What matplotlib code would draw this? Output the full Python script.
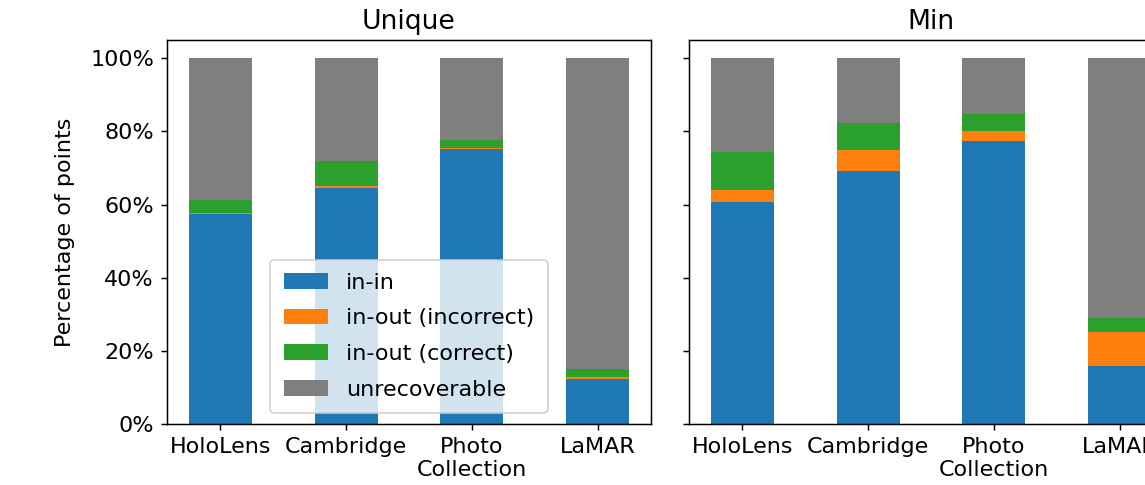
import matplotlib as mpl
mpl.use("Agg")
import matplotlib.pyplot as plt
import numpy as np
from matplotlib.ticker import PercentFormatter

plt.rcParams.update({"font.size": 12, "font.family": "DejaVu Sans"})

datasets = ["HoloLens", "Cambridge", "Photo\nCollection", "LaMAR"]
series = ["in-in", "in-out (incorrect)", "in-out (correct)", "unrecoverable"]
colors = ["#1f77b4", "#ff7f0e", "#2ca02c", "#7f7f7f"]

# fractions per dataset
unique_in_in = [0.575, 0.645, 0.751, 0.123]
unique_out_bad = [0.003, 0.006, 0.004, 0.006]
unique_out_ok = [0.035, 0.067, 0.022, 0.022]

min_in_in = [0.606, 0.692, 0.774, 0.159]
min_out_bad = [0.034, 0.056, 0.027, 0.093]
min_out_ok = [0.104, 0.075, 0.048, 0.038]


def panel(ax, in_in, out_bad, out_ok, title):
    parts = [np.array(in_in), np.array(out_bad), np.array(out_ok)]
    parts.append(1.0 - parts[0] - parts[1] - parts[2])
    x = np.arange(len(datasets))
    bottom = np.zeros(len(datasets))
    for vals, name, c in zip(parts, series, colors):
        ax.bar(x, vals, width=0.5, bottom=bottom, color=c, label=name)
        bottom += vals
    ax.set_xticks(x)
    ax.set_xticklabels(datasets)
    ax.set_title(title)
    ax.yaxis.set_major_formatter(PercentFormatter(1.0, decimals=0))


DPI = 400 / 3
W, H = 1145, 485
fig = plt.figure(figsize=(W / DPI, H / DPI), dpi=DPI)
ax1 = fig.add_axes([167 / W, 61 / H, 484 / W, 384 / H])
ax2 = fig.add_axes([689 / W, 61 / H, 484 / W, 384 / H], sharey=ax1)

panel(ax1, unique_in_in, unique_out_bad, unique_out_ok, "Unique")
panel(ax2, min_in_in, min_out_bad, min_out_ok, "Min")
ax1.set_ylabel("Percentage of points", labelpad=8)
plt.setp(ax2.get_yticklabels(), visible=False)
ax1.legend(loc="lower center", labelspacing=0.7, borderpad=0.6)

fig.savefig("out.png", dpi=DPI)
plt.close(fig)
